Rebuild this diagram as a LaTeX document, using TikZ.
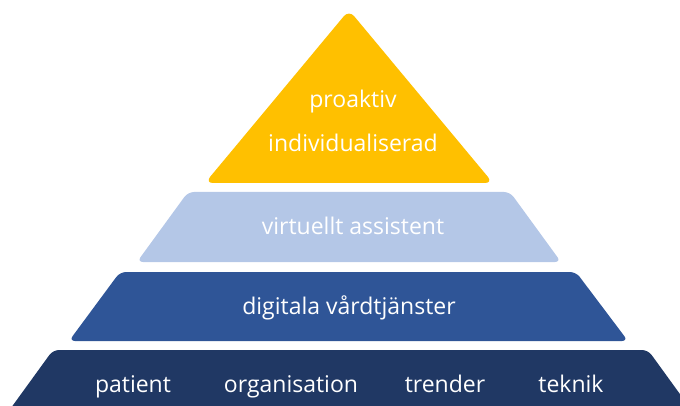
\documentclass[tikz,border=0pt]{standalone}
\usepackage{fontspec}
\setmainfont{Open Sans}
\usepackage{tikz}
\usetikzlibrary{positioning, calc}
\definecolor{tieryellow}{HTML}{FFC000}
\definecolor{tierlight}{HTML}{B4C7E7}
\definecolor{tierblue}{HTML}{2F5597}
\definecolor{tiernavy}{HTML}{203864}

\begin{document}
\begin{tikzpicture}[x=1pt, y=-1pt,
 tier/.style={rounded corners=6pt},
 lbl/.style={text=white, anchor=base, inner sep=0pt,
 font=\fontsize{23}{27}\selectfont}]
 \useasboundingbox (0,0) rectangle (680,406);
 \begin{scope}
 \clip (0,0) rectangle (680,406);
 \fill[tieryellow, rounded corners=8pt] (205,183) -- (349,10) -- (493,183) -- cycle;
 \fill[tierlight, tier] (137,262) -- (188,192) -- (510,192) -- (561,262) -- cycle;
 \fill[tierblue, tier] (69,341) -- (120,272) -- (576,272) -- (628,341) -- cycle;
 \fill[tiernavy, tier] (-5,430) -- (53,350) -- (648,350) -- (706,430) -- cycle;
 \end{scope}
 \node[lbl] (proaktiv) at (353,108) {proaktiv};
 \node[lbl] (individ) at (353,152) {individualiserad};
 \node[lbl] (assistent) at (353,234) {virtuellt assistent};
 \node[lbl] (vard) at (349,314) {digitala vårdtjänster};
 \node[lbl] (patient) at (133,392) {patient};
 \node[lbl] (organisation) at (291,392) {organisation};
 \node[lbl] (trender) at (445,392) {trender};
 \node[lbl] (teknik) at (571,392) {teknik};
\end{tikzpicture}
\end{document}
